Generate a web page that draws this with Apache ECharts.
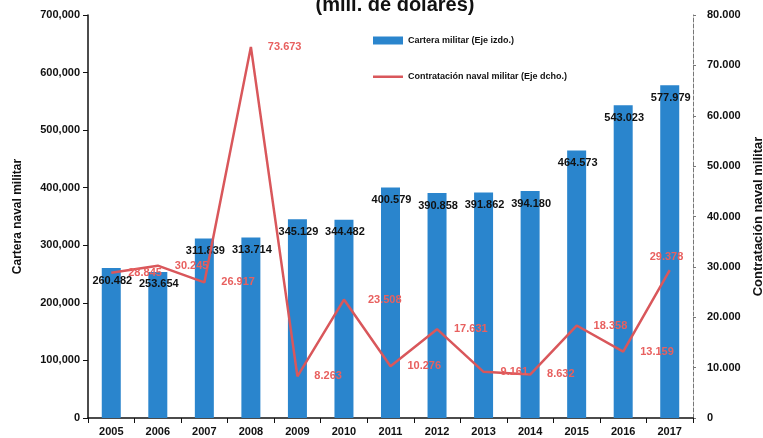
<!DOCTYPE html>
<html style="height: 100%">
<head>
<meta charset="utf-8">
</head>
<body style="height: 100%; margin: 0; background: #fff">
<div id="container" style="width: 763px; height: 438px"></div>
<script src="https://cdn.jsdelivr.net/npm/echarts@6/dist/echarts.min.js"></script>
<script type="text/javascript">
var years = ['2005', '2006', '2007', '2008', '2009', '2010', '2011', '2012', '2013', '2014', '2015', '2016', '2017'];
var cartera = [260482, 253654, 311839, 313714, 345129, 344482, 400579, 390858, 391862, 394180, 464573, 543023, 577979];
var contratacion = [28845, 30245, 26917, 73673, 8263, 23508, 10276, 17631, 9161, 8632, 18358, 13159, 29378];
var leftTicks = [0, 100000, 200000, 300000, 400000, 500000, 600000, 700000];
var rightTicks = [0, 10000, 20000, 30000, 40000, 50000, 60000, 70000, 80000];

var FONT = 'Liberation Sans, Arial, sans-serif';

function fmt(v, sep) {
    return String(v).replace(/\B(?=(\d{3})+(?!\d))/g, sep);
}

// the red labels sit right of their points, the last one above
var lineLabelPos = {5: [24, 0], 12: [-20, -13]};
var lineData = contratacion.map(function (v, i) {
    var item = {value: v};
    if (lineLabelPos[i]) {
        item.label = {position: lineLabelPos[i]};
    }
    return item;
});

var chart = echarts.init(document.getElementById('container'));
var option = {
    animation: false,
    textStyle: {fontFamily: FONT},
    title: {
        text: '(mill. de dólares)',
        left: 390,
        textAlign: 'center',
        top: -10,
        textStyle: {fontSize: 20, fontWeight: 'bold', color: '#111', fontFamily: FONT}
    },
    legend: {
        orient: 'vertical',
        left: 368,
        top: 31,
        itemGap: 27,
        itemWidth: 30,
        itemHeight: 8,
        textStyle: {fontSize: 9, fontWeight: 'bold', color: '#111', fontFamily: FONT},
        data: [
            {name: 'Cartera militar (Eje izdo.)', icon: 'rect'},
            {name: 'Contratación naval militar (Eje dcho.)', icon: 'path://M0,0L0,0.01M0,3L30,3L30,5.5L0,5.5ZM30,8L30,8.01'}
        ]
    },
    grid: {left: 88, right: 70, top: 15, bottom: 20, outerBoundsMode: 'none', containLabel: false},
    xAxis: {
        type: 'category',
        data: years,
        axisLine: {lineStyle: {color: '#111', width: 1.5}},
        axisTick: {show: true, length: 5, lineStyle: {color: '#111'}},
        axisLabel: {fontSize: 11, fontWeight: 'bold', color: '#111', margin: 8}
    },
    yAxis: [
        {
            type: 'value',
            min: leftTicks[0],
            max: leftTicks[leftTicks.length - 1],
            interval: leftTicks[1] - leftTicks[0],
            name: 'Cartera naval militar',
            nameLocation: 'middle',
            nameGap: 64,
            nameTextStyle: {fontSize: 12, fontWeight: 'bold', color: '#111'},
            axisLine: {show: true, lineStyle: {color: '#111', width: 1.5}},
            axisTick: {show: true, length: 5, lineStyle: {color: '#111'}},
            splitLine: {show: false},
            axisLabel: {
                fontSize: 11, fontWeight: 'bold', color: '#111', margin: 8,
                formatter: function (v) { return fmt(v, ','); }
            }
        },
        {
            type: 'value',
            min: rightTicks[0],
            max: rightTicks[rightTicks.length - 1],
            interval: rightTicks[1] - rightTicks[0],
            name: 'Contratación naval militar',
            nameLocation: 'middle',
            nameGap: 59,
            nameRotate: 90,
            nameTextStyle: {fontSize: 13, fontWeight: 'bold', color: '#111'},
            axisLine: {show: true, lineStyle: {color: '#777', width: 1, type: 'dashed'}},
            axisTick: {show: true, length: 3, lineStyle: {color: '#777'}},
            splitLine: {show: false},
            axisLabel: {
                fontSize: 11, fontWeight: 'bold', color: '#111', margin: 14,
                formatter: function (v) { return fmt(v, '.'); }
            }
        }
    ],
    series: [
        {
            name: 'Cartera militar (Eje izdo.)',
            type: 'bar',
            yAxisIndex: 0,
            barWidth: 19,
            data: cartera,
            itemStyle: {color: '#2a85cd'},
            label: {
                show: true,
                position: 'insideTop',
                distance: 7,
                offset: [1, 0],
                fontSize: 11,
                fontWeight: 'bold',
                color: '#111',
                formatter: function (p) { return fmt(p.value, '.'); }
            }
        },
        {
            name: 'Contratación naval militar (Eje dcho.)',
            type: 'line',
            yAxisIndex: 1,
            data: lineData,
            symbol: 'circle',
            symbolSize: 0.1,
            showSymbol: true,
            lineStyle: {color: '#d9575b', width: 2.5},
            itemStyle: {color: '#d9575b'},
            labelLayout: {hideOverlap: false},
            label: {
                show: true,
                position: [17, 0],
                align: 'left',
                verticalAlign: 'middle',
                fontSize: 11,
                fontWeight: 'bold',
                color: '#e8605f',
                formatter: function (p) { return fmt(p.value, '.'); }
            },
            z: 3
        }
    ]
};
chart.setOption(option);
</script>
</body>
</html>
